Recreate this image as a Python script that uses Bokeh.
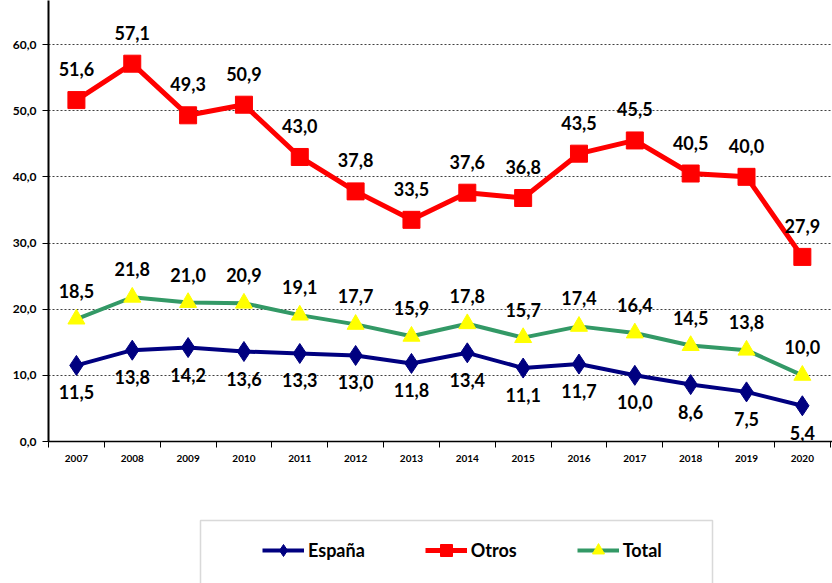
from bokeh.plotting import figure
from bokeh.layouts import column
from bokeh.models import (ColumnDataSource, LabelSet, FixedTicker, Range1d, Legend,
                          LegendItem, BoxAnnotation)
from bokeh.core.properties import value
from bokeh.embed import file_html
from bokeh.resources import INLINE

years = ["2007", "2008", "2009", "2010", "2011", "2012", "2013",
         "2014", "2015", "2016", "2017", "2018", "2019", "2020"]
espana = [11.5, 13.8, 14.2, 13.6, 13.3, 13.0, 11.8, 13.4, 11.1, 11.7, 10.0, 8.6, 7.5, 5.4]
otros = [51.6, 57.1, 49.3, 50.9, 43.0, 37.8, 33.5, 37.6, 36.8, 43.5, 45.5, 40.5, 40.0, 27.9]
total = [18.5, 21.8, 21.0, 20.9, 19.1, 17.7, 15.9, 17.8, 15.7, 17.4, 16.4, 14.5, 13.8, 10.0]
y_ticks = [0, 10, 20, 30, 40, 50, 60]

FONT = "Lato"
C_ESP, C_OTR, C_TOT, C_TRI = "#000080", "#FF0000", "#339966", "#FFFF00"
LEFT = 48
x = [i + 0.5 for i in range(len(years))]


def fmt(v):
    return f"{v:.1f}".replace(".", ",")


def src(vals):
    return ColumnDataSource(dict(x=x, y=vals, lab=[fmt(v) for v in vals]))


s_esp, s_otr, s_tot = src(espana), src(otros), src(total)

p = figure(width=832, height=470, output_backend="svg", toolbar_location=None,
           x_range=Range1d(0, 14.04), y_range=Range1d(0, 66.65),
           min_border_left=LEFT, min_border_right=0, min_border_top=0,
           min_border_bottom=29)
p.outline_line_color = None
p.background_fill_color = "white"
p.border_fill_color = "white"

# grid
p.xgrid.visible = False
p.ygrid.ticker = FixedTicker(ticks=y_ticks[1:])
p.ygrid.grid_line_color = "#404040"
p.ygrid.grid_line_dash = "2 2"
p.ygrid.grid_line_width = 1

# y axis
p.yaxis.ticker = FixedTicker(ticks=y_ticks)
p.yaxis.major_label_overrides = {t: fmt(t) for t in y_ticks}
p.yaxis.axis_line_width = 2
p.yaxis.axis_line_color = "black"
p.yaxis.major_tick_out = 6
p.yaxis.major_tick_in = 0
p.yaxis.minor_tick_out = 0
p.yaxis.minor_tick_in = 0
p.yaxis.major_label_text_font = FONT
p.yaxis.major_label_text_font_style = "bold"
p.yaxis.major_label_text_font_size = "12px"
p.yaxis.major_label_text_color = "black"
p.yaxis.major_label_standoff = 6

# x axis
p.xaxis.ticker = FixedTicker(ticks=x, minor_ticks=list(range(len(years) + 1)))
p.xaxis.major_label_overrides = {xi: yr for xi, yr in zip(x, years)}
p.xaxis.axis_line_width = 1.5
p.xaxis.axis_line_color = "black"
p.xaxis.major_tick_out = 0
p.xaxis.major_tick_in = 0
p.xaxis.minor_tick_out = 6
p.xaxis.minor_tick_in = 0
p.xaxis.minor_tick_line_color = "black"
p.xaxis.major_label_text_font = FONT
p.xaxis.major_label_text_font_style = "bold"
p.xaxis.major_label_text_font_size = "10px"
p.xaxis.major_label_text_color = "black"
p.xaxis.major_label_standoff = 7

# series styles
styles = [
    ("España", s_esp, dict(line_color=C_ESP, line_width=4),
     dict(marker="diamond", size=20, fill_color=C_ESP, line_color=C_ESP)),
    ("Otros", s_otr, dict(line_color=C_OTR, line_width=5),
     dict(marker="square", size=17, fill_color=C_OTR, line_color=C_OTR)),
    ("Total", s_tot, dict(line_color=C_TOT, line_width=4),
     dict(marker="triangle", size=17, fill_color=C_TRI, line_color=C_TRI)),
]

for name, s, lkw, mkw in styles:
    p.line("x", "y", source=s, **lkw)
    p.scatter("x", "y", source=s, **mkw)

# data labels
for s, off in ((s_esp, -27), (s_otr, 31), (s_tot, 28)):
    p.add_layout(LabelSet(x="x", y="y", text="lab", source=s, y_offset=off,
                          text_align="center", text_baseline="middle",
                          text_font=value(FONT), text_font_style="bold",
                          text_font_size="18px", text_color="black"))

# legend strip below the chart (its frame is aligned with the chart's frame)
q = figure(width=832, height=113, output_backend="svg", toolbar_location=None,
           x_range=Range1d(LEFT, 832), y_range=Range1d(0, 113),
           x_axis_type=None, y_axis_type=None,
           min_border_left=LEFT, min_border_right=0, min_border_top=0,
           min_border_bottom=0)
q.grid.visible = False
q.outline_line_color = None
q.background_fill_color = "white"
q.border_fill_color = "white"
# off-screen range so the legend renderers draw nothing in the strip itself
q.extra_y_ranges = {"off": Range1d(1000, 2000)}

q.add_layout(BoxAnnotation(left=200, right=712, top=63, bottom=-20,
                           fill_color="white", fill_alpha=1.0,
                           line_color="#808080", line_width=1.5))

items = []
for name, s, lkw, mkw in styles:
    lr = q.line("x", "y", source=s, y_range_name="off", **lkw)
    mr = q.scatter("x", "y", source=s, y_range_name="off", **mkw)
    items.append(LegendItem(label=name, renderers=[lr, mr]))

legend = Legend(items=items, location=(262 - LEFT - 5, 13), orientation="horizontal",
                glyph_width=42, glyph_height=30, label_standoff=4, spacing=60,
                padding=5, margin=0, border_line_alpha=0, background_fill_alpha=0,
                label_text_font=FONT, label_text_font_style="bold",
                label_text_font_size="18px", label_text_color="black")
q.add_layout(legend)

layout = column(p, q, spacing=0)
open("out.html", "w").write(file_html(layout, INLINE))
